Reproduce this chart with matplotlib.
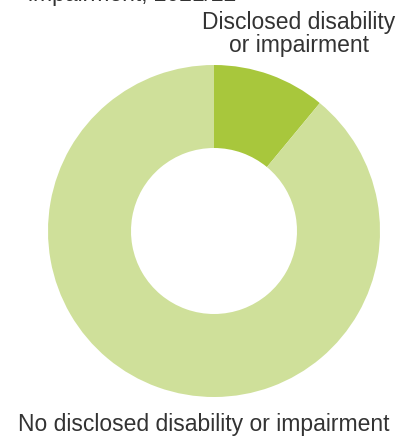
import matplotlib.pyplot as plt

labels = ['Disclosed disability\nor impairment', 'No disclosed disability or impairment']
shares = [11, 89]
colors = ['#a8c73c', '#cfe09a']

W, H = 401, 439
fig = plt.figure(figsize=(W / 100, H / 100), dpi=100)
plt.rcParams['font.family'] = ['Liberation Sans', 'DejaVu Sans']

# donut centre (px) and outer radius (px)
cx, cy, r = 214, 232, 166
half = 172
ax = fig.add_axes([(cx - half) / W, (H - cy - half) / H, 2 * half / W, 2 * half / H])
ax.pie(shares, colors=colors, startangle=90, counterclock=False, radius=1,
       wedgeprops=dict(width=0.5, linewidth=0))
lim = half / r
ax.set_xlim(-lim, lim)
ax.set_ylim(-lim, lim)
ax.set_aspect('equal')
ax.axis('off')

# title, mostly cut off at the top of the image
fig.text(236 / W, 1 - 1.5 / H, 'impairment, 2021/22', ha='right', va='baseline',
         fontsize=16.5, color='#333333')

fig.text(299 / W, 1 - 34 / H, labels[0], ha='center', va='center',
         fontsize=16.5, color='#333333', linespacing=1.0)
fig.text(204 / W, 1 - 425 / H, labels[1], ha='center', va='center',
         fontsize=16.5, color='#333333')

fig.savefig('out.png', dpi=100)
